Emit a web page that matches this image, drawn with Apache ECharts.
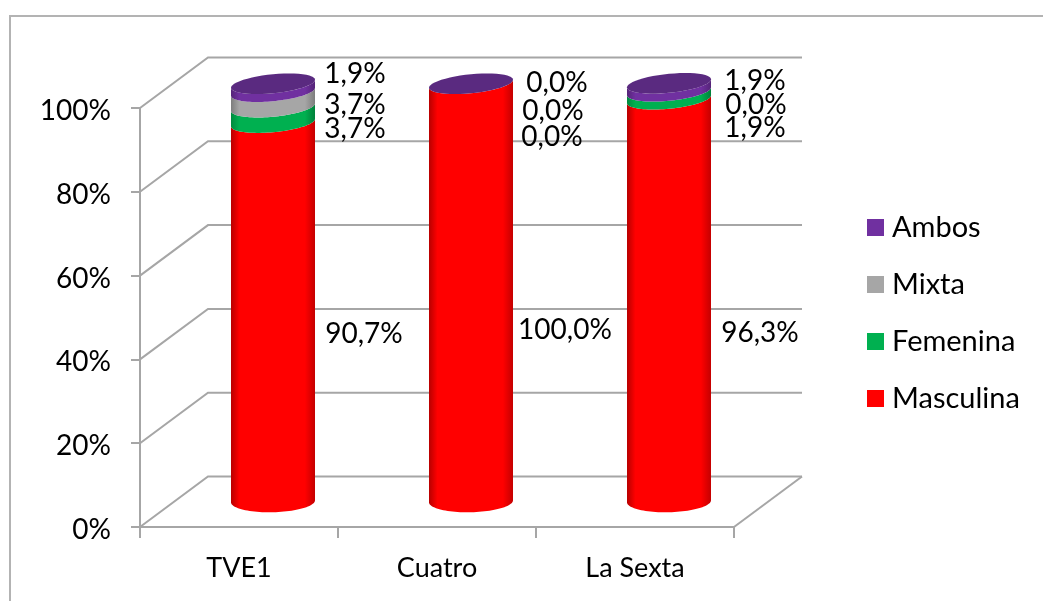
<!DOCTYPE html>
<html><head><meta charset="utf-8">
<style>html,body{margin:0;padding:0;background:#fff}#c{width:1043px;height:601px}</style>
<script src="https://cdn.jsdelivr.net/npm/echarts@6/dist/echarts.min.js"></script>
</head><body><div id="c"></div>
<script>
const categories = ['TVE1', 'Cuatro', 'La Sexta'];
const masculina = [90.7, 100.0, 96.3];
const femenina = [3.7, 0.0, 1.9];
const mixta = [3.7, 0.0, 0.0];
const ambos = [1.9, 0.0, 1.9];
const yTicks = [0, 20, 40, 60, 80, 100];
const seriesNames = ['Masculina', 'Femenina', 'Mixta', 'Ambos'];
const seriesValues = [masculina, femenina, mixta, ambos];

// style / layout constants
const FONT = 'Lato';
const GRAY = '#a6a6a6';
const DEPTH_X = 68, DEPTH_Y = 50.5;
const RX = 42;
const colors = ['#ff0000', '#00b050', '#a6a6a6', '#7030a0'];
const edgeL = ['#b80000', '#008a3e', '#7d7d7d', '#552478'];
const edgeR = ['#c40000', '#00803a', '#7d7d7d', '#552478'];
const CAP = '#5a2a80';
// hand-placed data label nudges in px, by series then category
const nudges = [
  [[125, -3], [128, 12], [125, 8]],
  [[116, -10], [115, 29], [120, 8.5]],
  [[116, -19], [116, 3], [121, -10.5]],
  [[116, -38], [120, -25], [120, -31]]
];
const fmt = v => v.toFixed(1).replace('.', ',') + '%';

function ellipseGeom(pt, v) {
  const f = v / 100;
  return {
    cx: pt[0] + DEPTH_X / 2,
    cy: pt[1] - DEPTH_Y / 2 + 1.5 * f - 0.5,
    ry: 11 - 1.5 * f,
    tilt: 1 + 3 * f
  };
}
function arc(g, from, to) {
  const out = [];
  for (let i = 0; i <= 48; i++) {
    const t = from + (to - from) * i / 48;
    out.push([g.cx + RX * Math.cos(t), g.cy + g.ry * Math.sin(t) - g.tilt * Math.cos(t)]);
  }
  return out;
}

function segmentRender(si) {
  return function (params, api) {
    const cat = api.value(0), start = api.value(1), end = api.value(2), value = api.value(3);
    const children = [];
    if (value > 0) {
      const gb = ellipseGeom(api.coord([cat, start]), start);
      const gt = ellipseGeom(api.coord([cat, end]), end);
      const pts = arc(gb, Math.PI, 0).concat(arc(gt, 0, Math.PI));
      children.push({
        type: 'polygon', shape: { points: pts },
        style: {
          fill: new echarts.graphic.LinearGradient(0, 0, 1, 0, [
            { offset: 0, color: edgeL[si] }, { offset: 0.1, color: colors[si] },
            { offset: 0.88, color: colors[si] }, { offset: 1, color: edgeR[si] }
          ])
        }
      });
    }
    if (si === seriesNames.length - 1) {
      const g = ellipseGeom(api.coord([cat, end]), end);
      children.push({ type: 'polygon', shape: { points: arc(g, 0, Math.PI * 2) }, style: { fill: CAP } });
    }
    const a = api.coord([cat, (start + end) / 2]);
    const n = nudges[si][cat];
    children.push({
      type: 'text', z2: 100,
      style: { text: fmt(value), x: a[0] + n[0], y: a[1] + n[1], align: 'center', verticalAlign: 'middle',
        font: '28px ' + FONT, fill: '#000' }
    });
    return { type: 'group', children };
  };
}

const cylinderSeries = seriesNames.map((name, si) => ({
  name, type: 'custom', clip: false, z: 5 + si,
  itemStyle: { color: colors[si] },
  encode: { x: 0, y: [1, 2] },
  renderItem: segmentRender(si),
  data: categories.map((c, ci) => {
    let base = 0;
    for (let k = 0; k < si; k++) base += seriesValues[k][ci];
    return [ci, base, base + seriesValues[si][ci], seriesValues[si][ci]];
  })
}));

const wallSeries = {
  type: 'custom', clip: false, z: 1, silent: true,
  encode: { x: 0, y: 1 },
  data: yTicks.map(v => [0, v]),
  renderItem(params, api) {
    const v = api.value(1);
    const band = api.size([1, 0])[0];
    const p = api.coord([0, v]);
    const x0 = p[0] - band / 2, y = p[1];
    const children = [{
      type: 'polyline',
      shape: { points: [[x0, y], [x0 + DEPTH_X, y - DEPTH_Y], [x0 + DEPTH_X + band * categories.length, y - DEPTH_Y]] },
      style: { stroke: GRAY, lineWidth: 2, fill: null }
    }];
    if (v === 0) {
      const xr = x0 + band * categories.length;
      children.push({ type: 'line', shape: { x1: xr, y1: y, x2: xr + DEPTH_X, y2: y - DEPTH_Y },
        style: { stroke: GRAY, lineWidth: 2 } });
    }
    return { type: 'group', children };
  }
};

const chart = echarts.init(document.getElementById('c'), null, { renderer: 'canvas' });
chart.setOption({
  animation: false,
  backgroundColor: '#fff',
  grid: { left: 140, right: 309, top: 108, bottom: 74 },
  xAxis: {
    type: 'category', data: categories,
    axisLine: { lineStyle: { color: GRAY, width: 2 } },
    axisTick: { show: true, length: 11, lineStyle: { color: GRAY, width: 2 } },
    axisLabel: { color: '#000', fontFamily: FONT, fontSize: 27, margin: 28 }
  },
  yAxis: {
    type: 'value', min: 0, max: 100, interval: 20,
    axisLine: { show: true, lineStyle: { color: GRAY, width: 2 } },
    axisTick: { show: true, length: 9, lineStyle: { color: GRAY, width: 2 } },
    splitLine: { show: false },
    axisLabel: { color: '#000', margin: 29, formatter: v => '{a|' + v + '%}',
      rich: { a: { fontFamily: FONT, fontSize: 28, color: '#000', padding: [6, 0, 0, 0] } } }
  },
  legend: {
    orient: 'vertical', left: 867, top: 213, padding: 0, itemWidth: 17, itemHeight: 17, itemGap: 28,
    icon: 'rect', selectedMode: false,
    data: ['Ambos', 'Mixta', 'Femenina', 'Masculina'],
    textStyle: { color: '#000', fontFamily: FONT, fontSize: 29, padding: [0, 0, 0, 3] }
  },
  graphic: [
    { type: 'polyline', silent: true, shape: { points: [[10, 601], [10, 16], [1043, 16]] },
      style: { stroke: '#b3b3b3', lineWidth: 2, fill: null } }
  ],
  series: [wallSeries].concat(cylinderSeries)
});
</script></body></html>
